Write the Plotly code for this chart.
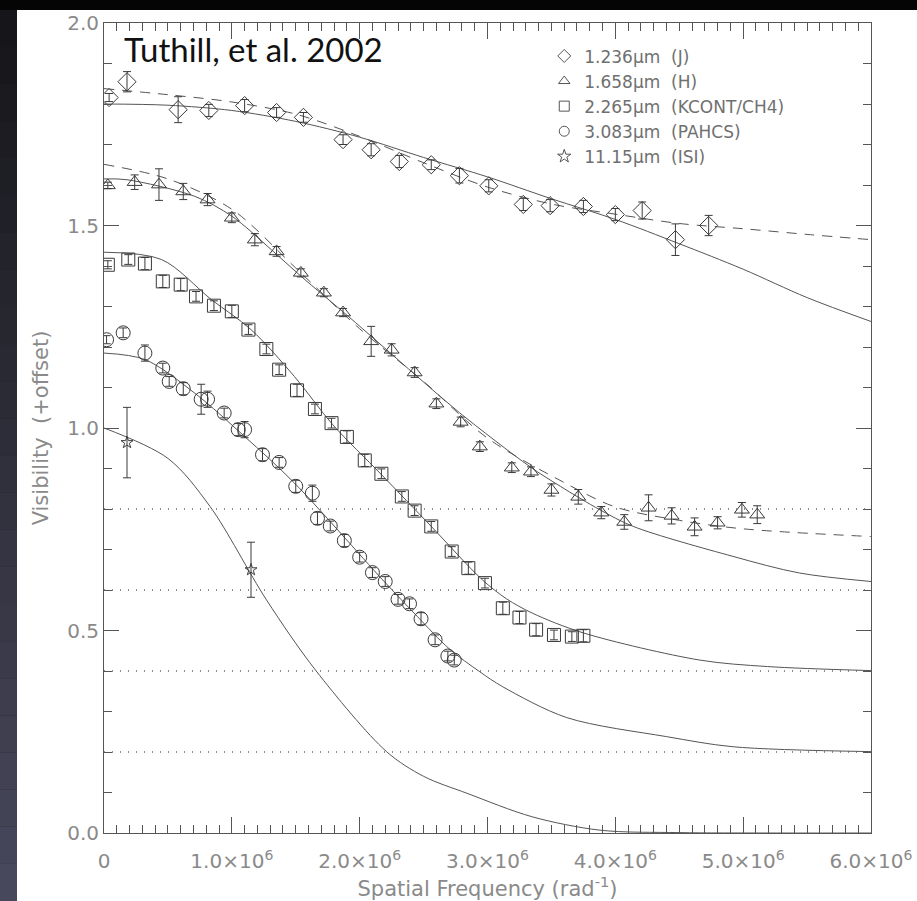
import plotly.graph_objects as go

# ---------------- data (spatial frequency in units of 1e6 rad^-1) ----------------
j_x = [0.04, 0.18, 0.58, 0.82, 1.10, 1.35, 1.56, 1.87, 2.09, 2.31, 2.56, 2.78, 3.01, 3.28, 3.49, 3.75, 4.00, 4.21, 4.47, 4.73]
j_y = [1.816, 1.855, 1.786, 1.784, 1.796, 1.779, 1.767, 1.712, 1.687, 1.658, 1.650, 1.623, 1.598, 1.552, 1.549, 1.547, 1.527, 1.537, 1.465, 1.500]
j_err = [0.010, 0.025, 0.032, 0.015, 0.015, 0.012, 0.012, 0.012, 0.015, 0.015, 0.012, 0.018, 0.015, 0.015, 0.015, 0.015, 0.015, 0.021, 0.039, 0.025]

h_x = [0.03, 0.24, 0.43, 0.62, 0.81, 1.00, 1.18, 1.35, 1.54, 1.72, 1.87, 2.09, 2.25, 2.43, 2.60, 2.79, 2.94, 3.19, 3.34, 3.50, 3.71, 3.89, 4.07, 4.26, 4.44, 4.62, 4.80, 4.99, 5.11]
h_y = [1.599, 1.607, 1.601, 1.584, 1.564, 1.519, 1.465, 1.436, 1.383, 1.334, 1.285, 1.214, 1.193, 1.137, 1.060, 1.015, 0.954, 0.902, 0.892, 0.847, 0.830, 0.791, 0.768, 0.803, 0.783, 0.756, 0.766, 0.798, 0.786]
h_err = [0.008, 0.018, 0.039, 0.020, 0.015, 0.012, 0.015, 0.012, 0.010, 0.010, 0.010, 0.037, 0.015, 0.012, 0.012, 0.012, 0.012, 0.012, 0.012, 0.015, 0.018, 0.015, 0.018, 0.032, 0.020, 0.022, 0.015, 0.018, 0.022]

k_x = [0.03, 0.19, 0.32, 0.46, 0.60, 0.72, 0.86, 1.00, 1.13, 1.27, 1.37, 1.51, 1.65, 1.78, 1.90, 2.04, 2.17, 2.33, 2.43, 2.56, 2.72, 2.85, 2.98, 3.12, 3.25, 3.38, 3.52, 3.66, 3.75]
k_y = [1.403, 1.416, 1.406, 1.362, 1.354, 1.325, 1.302, 1.288, 1.243, 1.195, 1.144, 1.093, 1.047, 1.012, 0.978, 0.920, 0.887, 0.831, 0.796, 0.757, 0.695, 0.654, 0.617, 0.555, 0.532, 0.502, 0.489, 0.485, 0.487]
k_err = [0.010, 0.012, 0.015, 0.015, 0.015, 0.012, 0.012, 0.015, 0.012, 0.012, 0.012, 0.015, 0.012, 0.012, 0.015, 0.015, 0.012, 0.012, 0.012, 0.012, 0.012, 0.015, 0.012, 0.015, 0.015, 0.015, 0.012, 0.012, 0.015]

l_x = [0.02, 0.15, 0.32, 0.46, 0.51, 0.62, 0.76, 0.81, 0.94, 1.05, 1.10, 1.24, 1.37, 1.50, 1.63, 1.67, 1.77, 1.88, 2.00, 2.10, 2.20, 2.30, 2.39, 2.48, 2.59, 2.69, 2.74]
l_y = [1.218, 1.235, 1.185, 1.148, 1.115, 1.097, 1.071, 1.071, 1.037, 0.996, 0.996, 0.934, 0.915, 0.856, 0.839, 0.777, 0.758, 0.722, 0.681, 0.643, 0.621, 0.577, 0.566, 0.529, 0.477, 0.437, 0.427]
l_err = [0.010, 0.012, 0.020, 0.012, 0.012, 0.015, 0.037, 0.020, 0.012, 0.015, 0.020, 0.015, 0.012, 0.015, 0.020, 0.015, 0.012, 0.015, 0.012, 0.012, 0.012, 0.012, 0.012, 0.015, 0.012, 0.012, 0.012]

isi_x = [0.18, 1.15]
isi_y = [0.964, 0.650]
isi_err = [0.087, 0.068]

# fitted model curves
j_fit_x = [0.0, 0.5, 1.0, 1.5, 2.0, 2.5, 3.0, 3.5, 4.0, 4.5, 5.0, 5.5, 6.0]
j_fit_y = [1.800, 1.797, 1.784, 1.757, 1.718, 1.668, 1.620, 1.566, 1.515, 1.455, 1.392, 1.322, 1.263]
j_fit2_x = [0.0, 0.5, 1.0, 1.5, 2.0, 2.5, 3.0, 3.5, 4.0, 4.5, 5.0, 5.5, 6.0]
j_fit2_y = [1.838, 1.823, 1.805, 1.775, 1.720, 1.655, 1.595, 1.553, 1.528, 1.505, 1.492, 1.478, 1.465]
h_fit_x = [0.0, 0.18, 0.71, 1.00, 1.31, 1.54, 1.91, 2.44, 2.78, 3.33, 3.57, 3.88, 4.14, 4.92, 5.44, 6.0]
h_fit_y = [1.615, 1.613, 1.572, 1.523, 1.440, 1.375, 1.276, 1.130, 1.038, 0.905, 0.856, 0.798, 0.757, 0.683, 0.642, 0.621]
h_fit2_x = [0.0, 0.5, 1.0, 1.5, 2.0, 2.5, 3.0, 3.59, 4.0, 4.5, 5.0, 6.0]
h_fit2_y = [1.651, 1.615, 1.540, 1.395, 1.245, 1.115, 0.975, 0.867, 0.805, 0.772, 0.751, 0.732]
k_fit_x = [0.0, 0.45, 0.84, 1.15, 1.49, 1.79, 2.17, 2.56, 2.96, 3.15, 3.35, 3.75, 4.66, 5.19, 6.0]
k_fit_y = [1.434, 1.416, 1.317, 1.243, 1.127, 1.008, 0.885, 0.757, 0.625, 0.578, 0.543, 0.494, 0.427, 0.411, 0.401]
l_fit_x = [0.0, 0.32, 0.71, 1.10, 1.49, 2.18, 2.45, 2.70, 2.94, 3.12, 3.62, 4.40, 4.92, 6.0]
l_fit_y = [1.185, 1.169, 1.086, 0.979, 0.864, 0.625, 0.535, 0.455, 0.398, 0.361, 0.285, 0.238, 0.213, 0.201]
isi_fit_x = [0.0, 0.5, 0.83, 1.27, 1.66, 2.21, 2.50, 2.84, 3.35, 3.88, 4.5, 5.2, 6.0]
isi_fit_y = [1.000, 0.925, 0.806, 0.576, 0.400, 0.201, 0.140, 0.098, 0.040, 0.007, 0.001, 0.000, 0.000]

offsets = [0.2, 0.4, 0.6, 0.8]

legend_labels = ["1.236\u03bcm  (J)", "1.658\u03bcm  (H)", "2.265\u03bcm  (KCONT/CH4)",
                 "3.083\u03bcm  (PAHCS)", "11.15\u03bcm  (ISI)"]
legend_symbols = ["diamond-open", "triangle-up-open", "square-open", "circle-open", "star-open"]

x_tickvals = [0, 1, 2, 3, 4, 5, 6]
x_ticktext = ["0"] + [f"{v}.0\u00d710<sup>6</sup>" for v in range(1, 7)]
y_tickvals = [0.0, 0.5, 1.0, 1.5, 2.0]
y_ticktext = ["0.0", "0.5", "1.0", "1.5", "2.0"]

# ---------------- figure ----------------
INK = "#3a3a3a"
LINE = "#555555"
GREY = "#8a8a8a"
fig = go.Figure()

for off in offsets:
    fig.add_trace(go.Scatter(x=[0, 6], y=[off, off], mode="lines",
                             line=dict(color="#666666", width=1.3, dash="1px,7px"),
                             showlegend=False, hoverinfo="skip"))

for fx, fy in [(j_fit_x, j_fit_y), (h_fit_x, h_fit_y), (k_fit_x, k_fit_y), (l_fit_x, l_fit_y), (isi_fit_x, isi_fit_y)]:
    fig.add_trace(go.Scatter(x=fx, y=fy, mode="lines", line=dict(color=LINE, width=1, shape="spline", smoothing=0.9),
                             showlegend=False, hoverinfo="skip"))
for fx, fy in [(j_fit2_x, j_fit2_y), (h_fit2_x, h_fit2_y)]:
    fig.add_trace(go.Scatter(x=fx, y=fy, mode="lines",
                             line=dict(color=LINE, width=1, shape="spline", smoothing=0.9, dash="10px,8px"),
                             showlegend=False, hoverinfo="skip"))

series = [(j_x, j_y, j_err, "diamond-open", 14),
          (h_x, h_y, h_err, "triangle-up-open", 13),
          (k_x, k_y, k_err, "square-open", 13),
          (l_x, l_y, l_err, "circle-open", 14),
          (isi_x, isi_y, isi_err, "star-open", 9)]
for xs, ys, es, sym, sz in series:
    fig.add_trace(go.Scatter(x=xs, y=ys, mode="markers",
                             marker=dict(symbol=sym, size=sz, color=INK, line=dict(width=1, color=INK)),
                             error_y=dict(type="data", array=es, color=INK, thickness=1, width=4),
                             showlegend=False))

for lab, sym in zip(legend_labels, legend_symbols):
    fig.add_trace(go.Scatter(x=[None], y=[None], mode="markers", name=lab,
                             marker=dict(symbol=sym, size=10, color="#555555", line=dict(width=1, color="#555555"))))

W, H = 917, 901
ml, mr, mt, mb = 104, 46, 23, 68
pw, ph = W - ml - mr, H - mt - mb

def px(xp):
    return (xp - ml) / pw

def py(yp):
    return (H - mb - yp) / ph

shapes = []
n = 24
for i in range(n):
    t = i / (n - 1)
    r = int(22 + t * (72 - 22)); g = int(22 + t * (72 - 22)); b = int(26 + t * (92 - 26))
    shapes.append(dict(type="rect", xref="paper", yref="paper", layer="below",
                       x0=px(0), x1=px(17), y0=py(10 + (i + 1) * (H - 10) / n), y1=py(10 + i * (H - 10) / n),
                       fillcolor=f"rgb({r},{g},{b})", line=dict(width=0)))
shapes.append(dict(type="rect", xref="paper", yref="paper", layer="below",
                   x0=px(0), x1=px(W), y0=py(10), y1=py(0), fillcolor="#050505", line=dict(width=0)))
shapes.append(dict(type="rect", xref="paper", yref="paper", layer="below",
                   x0=px(17), x1=px(W), y0=py(H), y1=py(10), fillcolor="#ffffff", line=dict(width=0)))

tickfont = dict(family="DejaVu Sans, sans-serif", size=20, color=GREY)
axcommon = dict(showgrid=False, zeroline=False, showline=True, linecolor=LINE, linewidth=1,
                mirror="ticks", ticks="inside", tickcolor=LINE, tickwidth=1, tickfont=tickfont,
                automargin=False)

fig.update_layout(
    width=W, height=H,
    margin=dict(l=ml, r=mr, t=mt, b=mb),
    paper_bgcolor="#202026", plot_bgcolor="#ffffff",
    shapes=shapes,
    xaxis=dict(range=[0, 6], tickvals=x_tickvals, ticktext=x_ticktext, ticklen=16, ticklabelstandoff=10,
               minor=dict(dtick=0.1, ticklen=8, ticks="inside", tickcolor=LINE, showgrid=False),
               title=dict(text="Spatial Frequency (rad<sup>-1</sup>)", standoff=0,
                          font=dict(family="DejaVu Sans, sans-serif", size=21, color=GREY)),
               **axcommon),
    yaxis=dict(range=[0, 2], tickvals=y_tickvals, ticktext=y_ticktext, ticklen=15,
               minor=dict(dtick=0.1, ticklen=8, ticks="inside", tickcolor=LINE, showgrid=False),
               title=dict(text="Visibility  (+offset)", standoff=12,
                          font=dict(family="DejaVu Sans, sans-serif", size=21, color=GREY)),
               **axcommon),
    legend=dict(x=0.574, y=0.981, xanchor="left", yanchor="top", bgcolor="rgba(0,0,0,0)",
                font=dict(family="DejaVu Sans, sans-serif", size=17, color="#707070"),
                itemwidth=30, tracegroupgap=0),
    annotations=[dict(text="Tuthill, et al. 2002", xref="paper", yref="paper",
                      x=px(253), y=py(49), xanchor="center", yanchor="middle", showarrow=False,
                      font=dict(family="Lato, sans-serif", size=33, color="#111111"))],
)

fig.write_html("out.html", config={"displayModeBar": False},
               post_script="document.body.style.margin='0px';")
